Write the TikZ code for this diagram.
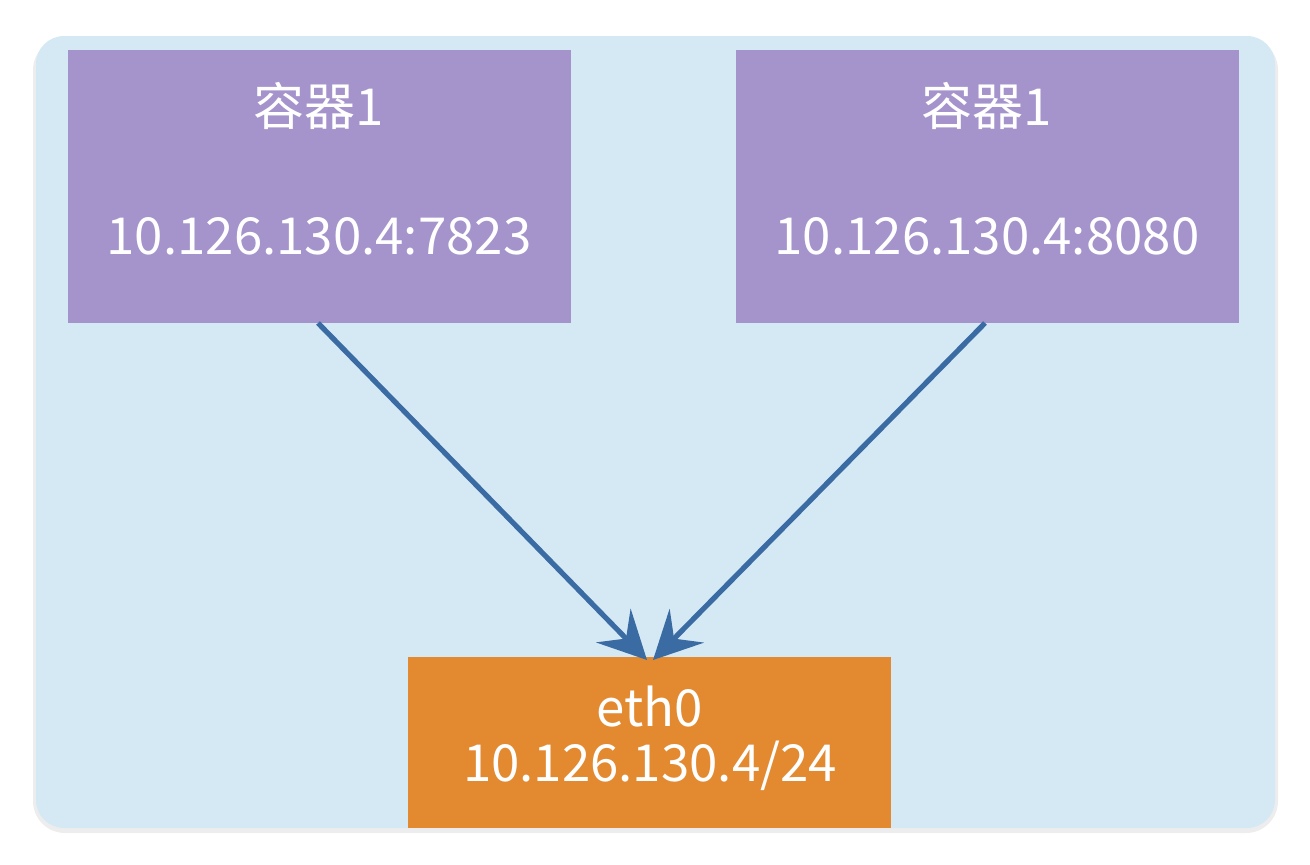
\documentclass[tikz,border=0pt]{standalone}
\usepackage{fontspec}
\setmainfont{Noto Sans CJK SC}
\usetikzlibrary{arrows.meta}
\definecolor{bgblue}{HTML}{D5E9F5}
\definecolor{purp}{HTML}{A593CB}
\definecolor{oran}{HTML}{E38A31}
\definecolor{arr}{HTML}{3A6BA3}
\begin{document}
\begin{tikzpicture}[x=0.5pt,y=-0.5pt,
  lbl/.style={text=white,font=\fontsize{25.5}{30}\selectfont},
  conn/.style={arr,line width=2.6pt,-{Stealth[length=24pt,width=24pt,inset=9pt]}}]
\useasboundingbox (0,0) rectangle (1310,864);
\fill[black!7,rounded corners=16] (33,38) rectangle (1278,833);
\fill[bgblue,rounded corners=14] (36,36) rectangle (1275,828);
\fill[purp] (68,50) rectangle (571,323);
\fill[purp] (736,50) rectangle (1239,323);
\fill[oran] (408,657) rectangle (891,828);
\coordinate (a1) at (318,323);
\coordinate (b1) at (985,323);
\coordinate (e1) at (647,660);
\coordinate (e2) at (653,660);
\node[lbl] (t1) at (319,106) {容器1};
\node[lbl] (ip1) at (319,236) {10.126.130.4:7823};
\node[lbl] (t2) at (987,106) {容器1};
\node[lbl] (ip2) at (987,236) {10.126.130.4:8080};
\node[lbl] (eth) at (650,707) {eth0};
\node[lbl] (ip3) at (650,766) {10.126.130.4/24};
\draw[conn] (a1) -- (e1);
\draw[conn] (b1) -- (e2);
\end{tikzpicture}
\end{document}
